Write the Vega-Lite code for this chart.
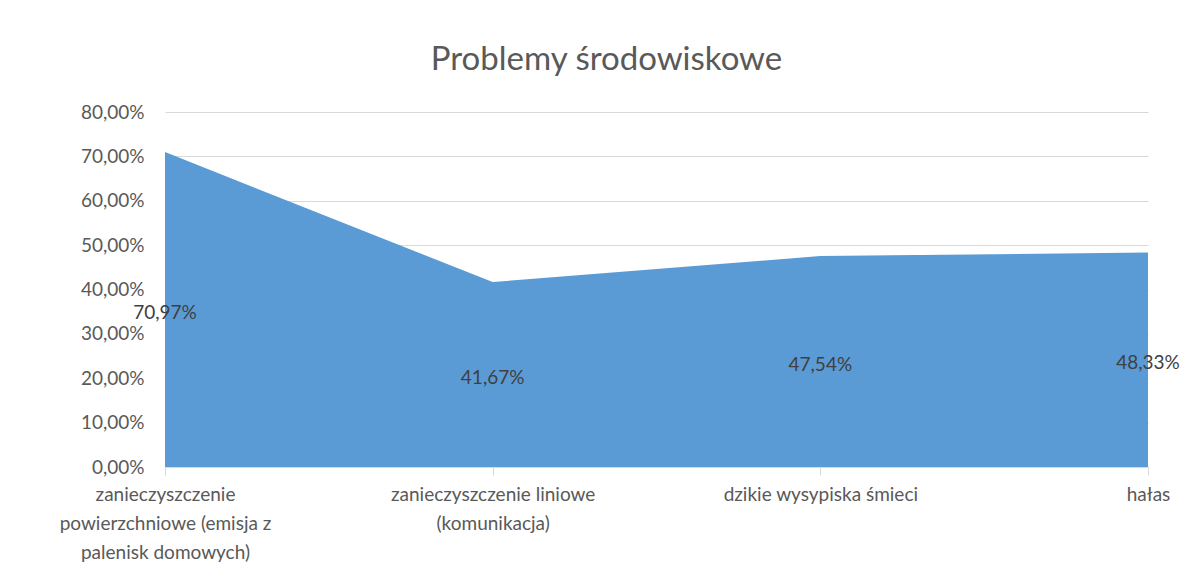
{
  "$schema": "https://vega.github.io/schema/vega-lite/v6.json",
  "width": 983,
  "height": 355,
  "autosize": "none",
  "padding": {"left": 165, "top": 112, "right": 41, "bottom": 112},
  "background": "white",
  "config": {
    "font": "Lato",
    "view": {"stroke": null},
    "locale": {"number": {"decimal": ",", "thousands": " ", "grouping": [3], "currency": ["", " zł"]}}
  },
  "title": {
    "text": "Problemy środowiskowe",
    "fontSize": 33,
    "fontWeight": "normal",
    "color": "#595959",
    "font": "Lato",
    "anchor": "middle",
    "dx": -50,
    "offset": 26
  },
  "data": {
    "values": [
      {"kategoria": "zanieczyszczenie\npowierzchniowe (emisja z\npalenisk domowych)", "wartosc": 0.7097},
      {"kategoria": "zanieczyszczenie liniowe\n(komunikacja)", "wartosc": 0.4167},
      {"kategoria": "dzikie wysypiska śmieci", "wartosc": 0.4754},
      {"kategoria": "hałas", "wartosc": 0.4833}
    ]
  },
  "encoding": {
    "x": {
      "field": "kategoria",
      "type": "ordinal",
      "sort": null,
      "scale": {"type": "point", "padding": 0},
      "axis": {
        "title": null,
        "labelAngle": 0,
        "labelExpr": "split(datum.value, '\\n')",
        "labelFontSize": 19,
        "labelColor": "#595959",
        "labelLineHeight": 29,
        "labelPadding": 10,
        "labelBaseline": "top",
        "labelLimit": 500,
        "labelOverlap": false,
        "domainColor": "#d9d9d9",
        "tickColor": "#d9d9d9",
        "tickSize": 8,
        "grid": false
      }
    }
  },
  "layer": [
    {
      "mark": {"type": "area", "color": "#5B9BD5", "opacity": 1},
      "encoding": {
        "y": {
          "field": "wartosc",
          "type": "quantitative",
          "scale": {"domain": [0, 0.8]},
          "axis": {
            "title": null,
            "format": ".2%",
            "values": [0, 0.1, 0.2, 0.3, 0.4, 0.5, 0.6, 0.7, 0.8],
            "labelOverlap": false,
            "labelFontSize": 19,
            "labelColor": "#595959",
            "labelPadding": 21,
            "ticks": false,
            "domain": false,
            "gridColor": "#d9d9d9",
            "gridWidth": 1
          }
        }
      }
    },
    {
      "transform": [{"calculate": "datum.wartosc / 2", "as": "srodek"}],
      "mark": {"type": "text", "fontSize": 19, "color": "#404040", "font": "Lato", "dy": 3},
      "encoding": {
        "y": {"field": "srodek", "type": "quantitative"},
        "text": {"field": "wartosc", "type": "quantitative", "format": ".2%"}
      }
    }
  ]
}
